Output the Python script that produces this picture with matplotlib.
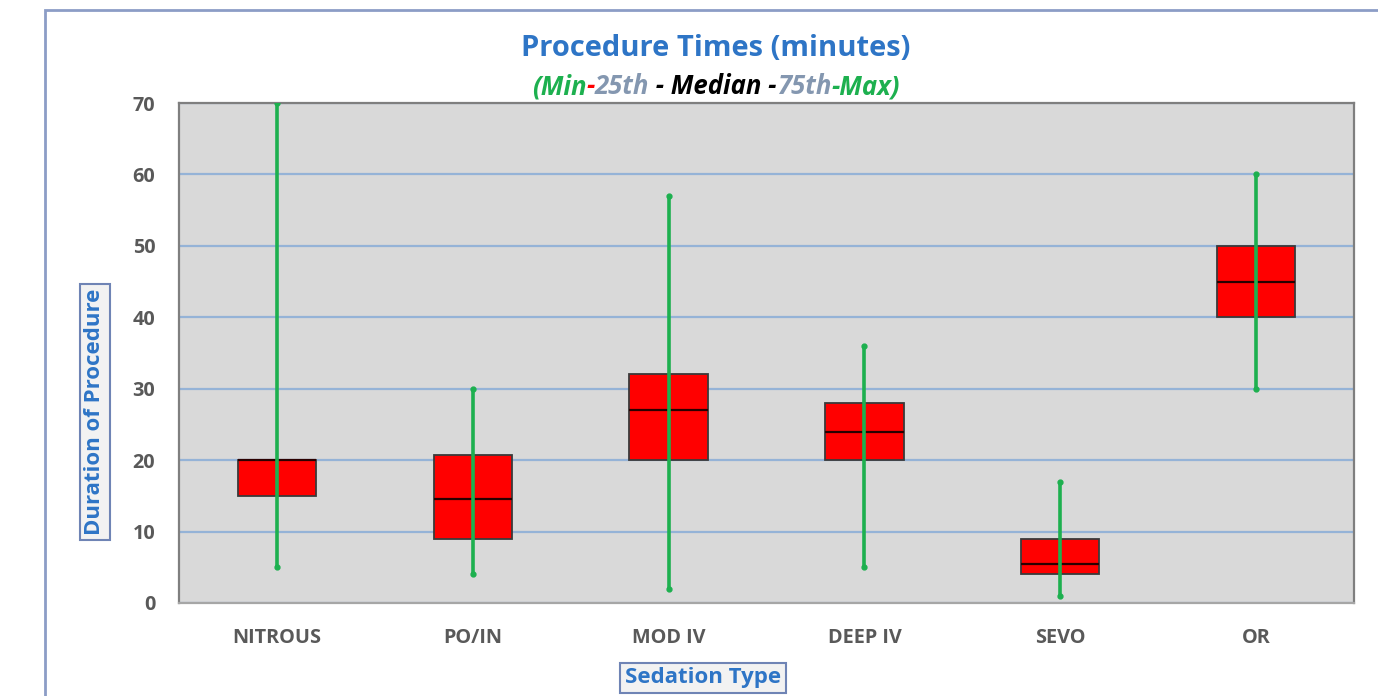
import matplotlib
matplotlib.use("Agg")
import matplotlib.pyplot as plt
from matplotlib.patches import Rectangle

# Procedure duration summary per sedation type (minutes)
categories = ["NITROUS", "PO/IN", "MOD IV", "DEEP IV", "SEVO", "OR"]
mins = [5, 4, 2, 5, 1, 30]
q1 = [15, 9, 20, 20, 4, 40]
medians = [20, 14.5, 27, 24, 5.5, 45]
q3 = [20, 20.7, 32, 28, 9, 50]
maxs = [70, 30, 57, 36, 17, 60]
yticks = [0, 10, 20, 30, 40, 50, 60, 70]

FONT = "Open Sans"
BLUE = "#2E75C6"
GREEN = "#1DB04F"
TICK_GRAY = "#595959"

fig = plt.figure(figsize=(13.78, 6.96), dpi=100)
fig.patch.set_facecolor("white")

# outer chart frame (runs off the right and bottom edges)
W, H = 1378, 696
fig.patches.append(Rectangle((45 / W, -0.05), 1.1, 1 - 10 / H + 0.05,
                             transform=fig.transFigure, fill=False,
                             edgecolor="#8C9DC6", linewidth=2.0))

ax = fig.add_axes([179 / W, 1 - 603 / H, (1354 - 179) / W, (603 - 103) / H])
ax.set_facecolor("#D9D9D9")

x = list(range(len(categories)))
heights = [b - a for a, b in zip(q1, q3)]
box_w = 0.40

ax.bar(x, heights, bottom=q1, width=box_w, color="#FF0000",
       edgecolor="#3A3A3A", linewidth=1.3, zorder=3)
ax.hlines(medians, [i - box_w / 2 for i in x], [i + box_w / 2 for i in x],
          colors="#2A0000", linewidth=1.6, zorder=4)
ax.vlines(x, mins, maxs, colors=GREEN, linewidth=2.6, zorder=5)
ax.plot(x, mins, linestyle="none", marker="o", markersize=3.5, color=GREEN, zorder=6)
ax.plot(x, maxs, linestyle="none", marker="o", markersize=3.5, color=GREEN, zorder=6)

ax.set_xlim(-0.5, len(categories) - 0.5)
ax.set_ylim(0, 70)
ax.set_yticks(yticks)
ax.set_xticks(x)
ax.set_xticklabels(categories)
ax.yaxis.grid(True, color="#95B3D7", linewidth=1.6, zorder=1)
ax.set_axisbelow(True)
ax.tick_params(axis="both", length=0, colors=TICK_GRAY, labelsize=14.3)
ax.tick_params(axis="y", pad=17)
ax.tick_params(axis="x", pad=18)
for lbl in ax.get_xticklabels() + ax.get_yticklabels():
    lbl.set_fontfamily(FONT)
    lbl.set_fontweight("bold")
for side, sp in ax.spines.items():
    sp.set_color("#7F7F7F")
    sp.set_linewidth(1.6)
ax.spines["bottom"].set_color("#A6A6A6")

label_box = dict(boxstyle="square,pad=0.2", facecolor="#F2F2F2",
                 edgecolor="#6F84B5", linewidth=1.5)
fig.text(95 / W, 1 - 412 / H, "Duration of Procedure", rotation=90,
         ha="center", va="center", color=BLUE, fontsize=16,
         fontweight="bold", family=FONT, bbox=label_box)
fig.text(703 / W, 1 - 678 / H, "Sedation Type", ha="center", va="center",
         color=BLUE, fontsize=16, fontweight="bold", family=FONT,
         bbox=label_box)

fig.text(716 / W, 1 - 48 / H, "Procedure Times (minutes)", ha="center",
         va="center", color=BLUE, fontsize=21, fontweight="bold", family=FONT)

# multi-coloured subtitle assembled piece by piece
pieces = [("(Min", GREEN), ("-", "#FF0000"), ("25th", "#8497B0"),
          (" - Median -", "#000000"), ("75th", "#8497B0"), ("-Max)", GREEN)]
renderer = fig.canvas.get_renderer()
texts = []
for s, c in pieces:
    t = fig.text(0, 1 - 87 / H, s, color=c, fontsize=18.5, fontweight="bold",
                 style="italic", family=FONT, va="center", ha="left")
    texts.append(t)
widths = [t.get_window_extent(renderer).width for t in texts]
total = sum(widths)
xpos = 716 - total / 2
for t, w in zip(texts, widths):
    t.set_x(xpos / W)
    xpos += w

fig.savefig("out.png", dpi=100, facecolor="white")
